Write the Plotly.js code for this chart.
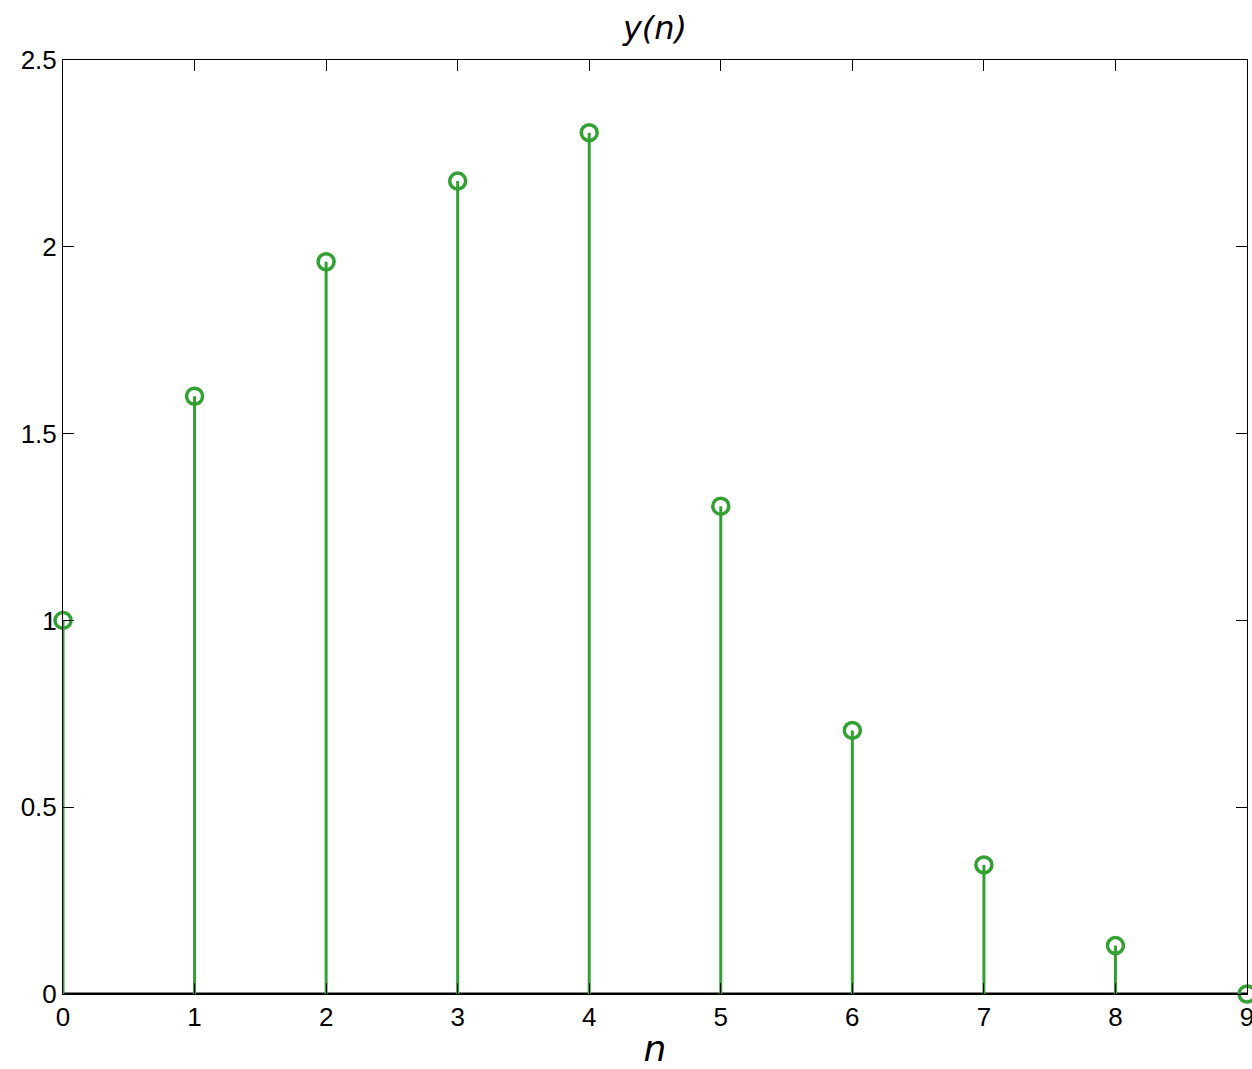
<!DOCTYPE html>
<html>
<head>
<meta charset="utf-8">
<script src="https://cdn.plot.ly/plotly-3.0.1.min.js"></script>
<style>html,body{margin:0;padding:0;background:#fff;overflow:hidden}#chart{width:1252px;height:1069px}</style>
</head>
<body>
<div id="chart"></div>
<script>
const n = [0, 1, 2, 3, 4, 5, 6, 7, 8, 9];
const y = [1.0, 1.6, 1.96, 2.176, 2.3056, 1.3056, 0.7056, 0.3456, 0.1296, 0];
const xTicks = [0, 1, 2, 3, 4, 5, 6, 7, 8, 9];
const yTicks = [0, 0.5, 1, 1.5, 2, 2.5];
const yTickText = ['0', '0.5', '1', '1.5', '2', '2.5'];

const green = '#33a033';
const sx = [], sy = [];
n.forEach((v, i) => { sx.push(v, v, null); sy.push(0, y[i], null); });
const nMin = Math.min(...n), nMax = Math.max(...n);

const traces = [
  {x: [nMin, nMax], y: [0, 0], type: 'scatter', mode: 'lines', line: {color: '#000', width: 3}, hoverinfo: 'skip', cliponaxis: false},
  {x: sx, y: sy, type: 'scatter', mode: 'lines', line: {color: green, width: 3}, hoverinfo: 'skip', cliponaxis: false},
  {x: n, y: y, type: 'scatter', mode: 'markers', cliponaxis: false,
   marker: {symbol: 'circle-open', size: 16, color: green, line: {color: green, width: 3.5}}}
];

const tickFont = {family: 'Liberation Sans, Arial, sans-serif', size: 26, color: '#000'};
const layout = {
  width: 1252, height: 1069,
  margin: {l: 63, r: 5, t: 60, b: 75},
  paper_bgcolor: '#fff', plot_bgcolor: '#fff',
  showlegend: false,
  title: {text: '<i>y(n)</i>', x: 0.5, xref: 'paper', xanchor: 'center', y: 1 - 28/1069, yanchor: 'middle',
          font: {family: 'DejaVu Sans, sans-serif', size: 32, color: '#000'}},
  xaxis: {range: [0, 9], tickvals: xTicks, ticktext: xTicks.map(String), tickfont: tickFont,
          ticklabeloverflow: 'allow',
          showgrid: false, zeroline: false, showline: true, linecolor: '#000', linewidth: 1, mirror: 'ticks',
          ticks: 'inside', ticklen: 11, tickwidth: 1, tickcolor: '#000',
          title: {text: '<i>n</i>', font: {family: 'DejaVu Sans, sans-serif', size: 36, color: '#000'}, standoff: 9}},
  yaxis: {range: [0, 2.5], tickvals: yTicks, ticktext: yTickText, tickfont: tickFont,
          ticklabeloverflow: 'allow',
          showgrid: false, zeroline: false,
          showline: true, linecolor: '#000', linewidth: 1, mirror: 'ticks',
          ticks: 'inside', ticklen: 11, tickwidth: 1, tickcolor: '#000'}
};
Plotly.newPlot('chart', traces, layout, {displayModeBar: false, staticPlot: true});
</script>
</body>
</html>
